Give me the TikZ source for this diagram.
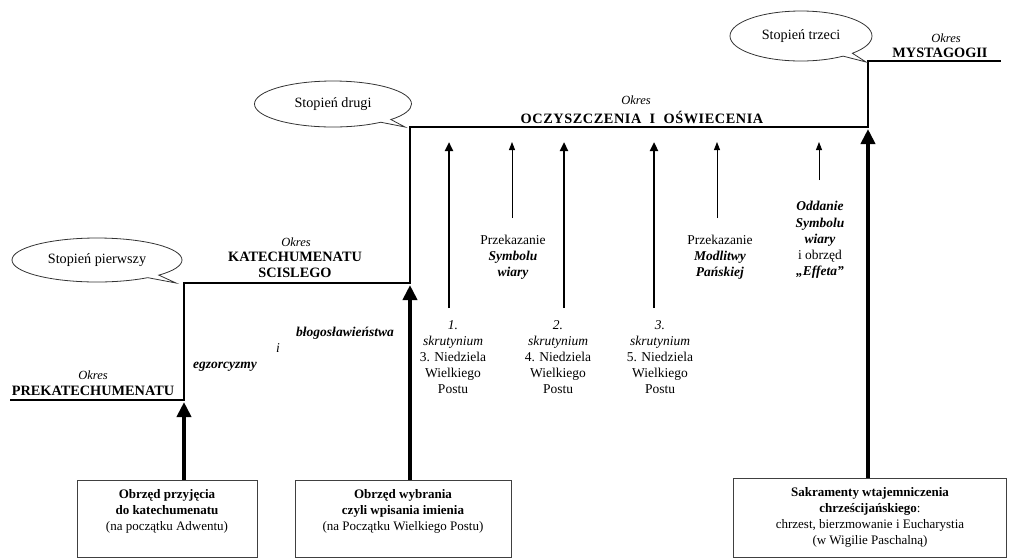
\documentclass[tikz,border=0pt]{standalone}
\usepackage{fontspec}
\setmainfont{Liberation Serif}
\usetikzlibrary{arrows.meta,shapes.callouts}
\begin{document}
\begin{tikzpicture}[x=1pt,y=-1pt,
  txt/.style={align=center, font=\fontsize{13.5}{16.2}\selectfont, inner sep=0pt},
  okres/.style={font=\fontsize{12.5}{15}\selectfont\itshape, inner sep=0pt},
  period/.style={font=\fontsize{14.3}{16}\selectfont\bfseries, inner sep=0pt, align=center},
  stair/.style={line width=1.6pt},
  thickarr/.style={line width=4pt, -{Triangle[length=15pt,width=14pt]}},
  medarr/.style={line width=2.6pt, -{Triangle[length=9pt,width=8pt]}},
  thinarr/.style={line width=0.9pt, -{Triangle[length=8pt,width=6pt]}},
  ritebox/.style={draw=black!75, line width=1pt, align=center, inner sep=0pt, font=\fontsize{13}{16}\selectfont},
  bubble/.style={ellipse callout, draw=black!80, line width=0.8pt, font=\fontsize{14.2}{15}\selectfont, inner sep=0pt, callout pointer arc=10}
]
\useasboundingbox (0,0) rectangle (1009,558);

% staircase
\coordinate (s0) at (10,400);
\coordinate (s1) at (184,400);
\coordinate (s2) at (184,283);
\coordinate (s3) at (410,283);
\coordinate (s4) at (410,127);
\coordinate (s5) at (868,127);
\coordinate (s6) at (868,61);
\coordinate (s7) at (1001,61);
\draw[stair] (s0) -- (s1) -- (s2) -- (s3) -- (s4) -- (s5) -- (s6) -- (s7);

% period labels
\node[okres] (ok1) at (93,375) {Okres};
\node[period] (pre) at (93,391) {PREKATECHUMENATU};
\node[okres] (ok2) at (296,242) {Okres};
\node[period] (kat) at (295,265) {KATECHUMENATU\\SCISLEGO};
\node[okres] (ok3) at (636,100) {Okres};
\node[period, font=\fontsize{14.3}{16}\selectfont\bfseries\addfontfeature{LetterSpace=4}] (ocz) at (642,117) {OCZYSZCZENIA\ \ I\ \ OŚWIECENIA};
\node[okres] (ok4) at (946,38) {Okres};
\node[period] (mys) at (940,53) {MYSTAGOGII};

% bubbles
\node[bubble, minimum width=170pt, minimum height=44pt, callout absolute pointer={(176,283)}] (st1) at (97,260) {Stopień pierwszy};
\node[bubble, minimum width=157pt, minimum height=46pt, callout absolute pointer={(405,127)}] (st2) at (333,104) {Stopień drugi};
\node[bubble, minimum width=142pt, minimum height=50pt, callout absolute pointer={(866,62)}] (st3) at (801,36) {Stopień trzeci};

% rite boxes
\node[ritebox, minimum width=180pt, minimum height=77pt, text depth=18pt] (b1) at (167,518.5)
  {\textbf{Obrzęd przyjęcia}\\\textbf{do katechumenatu}\\(na początku Adwentu)};
\node[ritebox, minimum width=216pt, minimum height=77pt, text depth=18pt] (b2) at (403,518.5)
  {\textbf{Obrzęd wybrania}\\\textbf{czyli wpisania imienia}\\(na Początku Wielkiego Postu)};
\node[ritebox, minimum width=273pt, minimum height=79pt] (b3) at (870,517.5)
  {\textbf{Sakramenty wtajemniczenia}\\\textbf{chrześcijańskiego}:\\chrzest, bierzmowanie i Eucharystia\\(w Wigilie Paschalną)};

% thick arrows
\draw[thickarr, shorten >=2pt] (b1.north -| s1) -- (s1);
\draw[thickarr, shorten >=2pt] (b2.north -| s3) -- (s3);
\draw[thickarr, shorten >=2pt] (b3.north -| s5) -- (s5);

% exorcisms
\node[txt, font=\fontsize{13.5}{16}\selectfont\bfseries\itshape] (blog) at (345,333) {błogosławieństwa};
\node[txt, font=\fontsize{13.5}{16}\selectfont\itshape] (iand) at (278,348) {i};
\node[txt, font=\fontsize{13.5}{16}\selectfont\bfseries\itshape] (egz) at (225,367) {egzorcyzmy};

% scrutinies
\node[txt] (k1) at (453,357) {\textit{1.}\\\textit{skrutynium}\\3. Niedziela\\Wielkiego\\Postu};
\node[txt] (k2) at (558,357) {\textit{2.}\\\textit{skrutynium}\\4. Niedziela\\Wielkiego\\Postu};
\node[txt] (k3) at (660,357) {\textit{3.}\\\textit{skrutynium}\\5. Niedziela\\Wielkiego\\Postu};
\coordinate (a1b) at (449,308); \coordinate (a1t) at (449,142);
\coordinate (a2b) at (564,308); \coordinate (a2t) at (564,142);
\coordinate (a3b) at (654,308); \coordinate (a3t) at (654,142);
\draw[medarr] (a1b) -- (a1t);
\draw[medarr] (a2b) -- (a2t);
\draw[medarr] (a3b) -- (a3t);

% traditions
\node[txt] (p1) at (513,257) {Przekazanie\\\textbf{\textit{Symbolu}}\\\textbf{\textit{wiary}}};
\node[txt] (p2) at (720,257) {Przekazanie\\\textbf{\textit{Modlitwy}}\\\textbf{\textit{Pańskiej}}};
\node[txt] (p3) at (820,240) {\textbf{\textit{Oddanie}}\\\textbf{\textit{Symbolu}}\\\textbf{\textit{wiary}}\\i obrzęd\\\textbf{\textit{„Effeta”}}};
\coordinate (t1b) at (512,218); \coordinate (t1t) at (512,142);
\coordinate (t2b) at (717,218); \coordinate (t2t) at (717,142);
\coordinate (t3b) at (819,180); \coordinate (t3t) at (819,142);
\draw[thinarr] (t1b) -- (t1t);
\draw[thinarr] (t2b) -- (t2t);
\draw[thinarr] (t3b) -- (t3t);
\end{tikzpicture}
\end{document}
